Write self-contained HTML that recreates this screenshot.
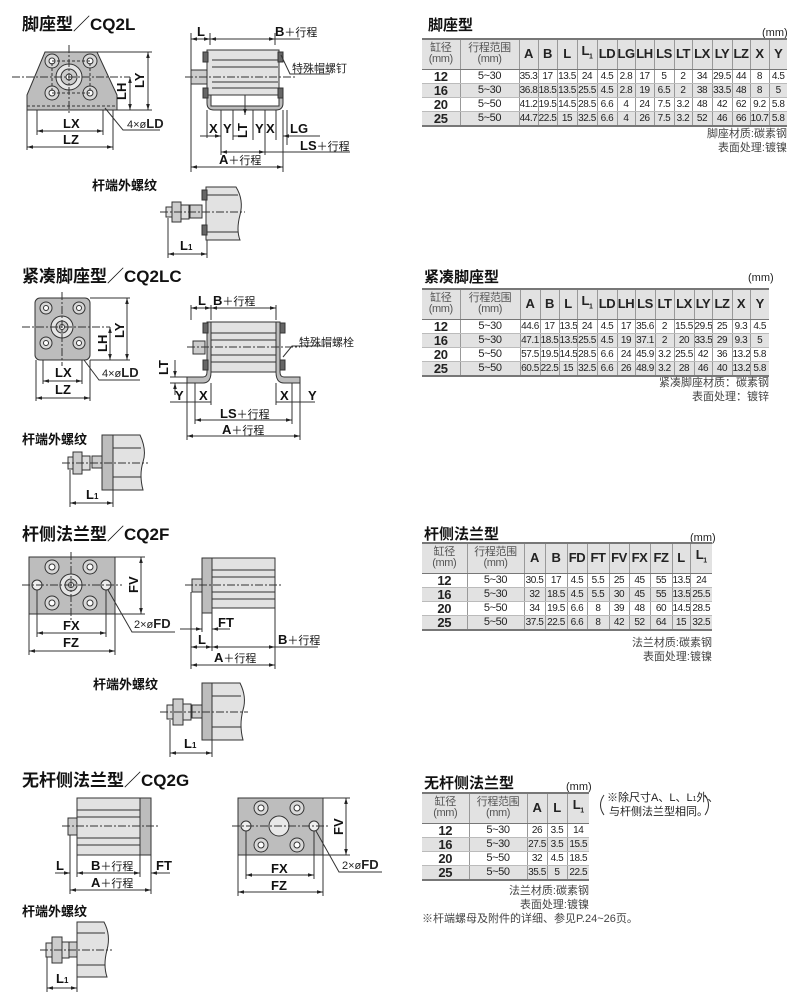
<!DOCTYPE html>
<html><head><meta charset="utf-8">
<style>
*{margin:0;padding:0;box-sizing:border-box}
body{width:790px;height:999px;background:#fff;position:relative;overflow:hidden;font-family:"Liberation Sans","Noto Sans CJK SC",sans-serif;color:#222}
svg{position:absolute;left:0;top:0}
.t{position:absolute;font-family:"Liberation Sans","Noto Sans CJK SC",sans-serif}
table{position:absolute;border-collapse:collapse;font-family:"Liberation Sans","Noto Sans CJK SC",sans-serif;table-layout:fixed}
td{border-left:1px solid #999;border-right:1px solid #999;text-align:center;padding:0;white-space:nowrap;overflow:hidden;line-height:13px;font-size:10px;letter-spacing:-0.4px}
tr.h td{background:#e2e2e2;font-weight:bold;font-size:13px;height:30px;border-bottom:1px solid #777;line-height:14px}
tr.h td.c{font-weight:normal;font-size:11px;color:#555;line-height:11px}
tr.g td{background:#e2e2e2}
tr td:first-child{border-left:none;font-weight:bold;font-size:13px}
tr td:last-child{border-right:none}
tr td:nth-child(2){font-size:11px}
table{border-top:2px solid #777;border-bottom:2px solid #777}
tr.d td{height:14px;border-bottom:1px solid #bbb}
.n{position:absolute;font-size:11px;color:#444;text-align:right;line-height:14px}
</style></head><body>

<svg width="790" height="999" viewBox="0 0 790 999" font-family="Liberation Sans, Noto Sans CJK SC, sans-serif">
<defs>
<marker id="a" viewBox="0 0 10 10" refX="10" refY="5" markerWidth="6" markerHeight="6" orient="auto-start-reverse"><path d="M0,2 L10,5 L0,8z" fill="#222"/></marker>
</defs>
<g font-weight="bold" font-size="17" fill="#111">
<text x="22" y="30">脚座型／CQ2L</text>
<text x="22" y="282">紧凑脚座型／CQ2LC</text>
<text x="22" y="540">杆侧法兰型／CQ2F</text>
<text x="22" y="786">无杆侧法兰型／CQ2G</text>
</g>
<g font-size="15" fill="#111" font-weight="bold">
<text x="428" y="30">脚座型</text>
<text x="424" y="282">紧凑脚座型</text>
<text x="424" y="539">杆侧法兰型</text>
<text x="424" y="788">无杆侧法兰型</text>
</g>
<g font-size="11" fill="#222">
<text x="762" y="36">(mm)</text>
<text x="748" y="281">(mm)</text>
<text x="690" y="541">(mm)</text>
<text x="566" y="790">(mm)</text>
</g>

<!-- ===== Section 1 ===== -->
<g stroke="#333" stroke-width="1">
<path d="M45,52 L97,52 L117,95 L117,110 L27,110 L27,95 Z" fill="#bdbdbd"/>
<line x1="27" y1="106" x2="117" y2="106" stroke-dasharray="3,2"/>
<g fill="#d8d8d8"><circle cx="52" cy="61" r="7"/><circle cx="90" cy="61" r="7"/><circle cx="52" cy="93" r="7"/><circle cx="90" cy="93" r="7"/></g>
<g fill="#fff"><circle cx="52" cy="61" r="3"/><circle cx="90" cy="61" r="3"/><circle cx="52" cy="93" r="3"/><circle cx="90" cy="93" r="3"/></g>
<circle cx="69" cy="77" r="13" fill="#e5e5e5"/><circle cx="69" cy="77" r="8" fill="#ccc"/><circle cx="69" cy="77" r="3" fill="#fff"/>
<rect x="52" y="61" width="38" height="32" fill="none" stroke-dasharray="3,2"/>
<line x1="12" y1="77" x2="130" y2="77" stroke-dasharray="8,2,2,2"/>
<line x1="69" y1="45" x2="69" y2="115" stroke-dasharray="8,2,2,2"/>
<line x1="97" y1="52" x2="152" y2="52"/><line x1="117" y1="110" x2="152" y2="110"/>
<line x1="148" y1="52" x2="148" y2="110" marker-start="url(#a)" marker-end="url(#a)"/>
<line x1="130" y1="77" x2="130" y2="110" marker-start="url(#a)" marker-end="url(#a)"/>
<line x1="37" y1="110" x2="37" y2="135"/><line x1="103" y1="110" x2="103" y2="135"/>
<line x1="27" y1="110" x2="27" y2="150"/><line x1="113" y1="110" x2="113" y2="150"/>
<line x1="37" y1="131" x2="103" y2="131" marker-start="url(#a)" marker-end="url(#a)"/>
<line x1="27" y1="147" x2="113" y2="147" marker-start="url(#a)" marker-end="url(#a)"/>
<polyline points="105,108 123,130 160,130" fill="none"/>
</g>
<g font-weight="bold" font-size="13" fill="#111">
<text x="63" y="128">LX</text><text x="63" y="144">LZ</text>
<text x="144" y="88" transform="rotate(-90 144 88)" >LY</text>
<text x="126" y="100" transform="rotate(-90 126 100)">LH</text>
</g>
<text x="127" y="128" font-size="11" fill="#222">4×ø<tspan font-weight="bold" font-size="13">LD</tspan></text>

<!-- side view 1 -->
<g stroke="#333" stroke-width="1">
<path d="M207,95 L207,103 Q207,110 214,110 L276,110 Q283,110 283,103 L283,95" fill="#bdbdbd"/>
<rect x="211" y="94" width="68" height="12" fill="#fff"/>
<rect x="207" y="50" width="72" height="45" fill="#e2e2e2"/>
<line x1="212" y1="60" x2="278" y2="60"/><line x1="212" y1="67" x2="278" y2="67"/><line x1="212" y1="82" x2="278" y2="82"/><line x1="212" y1="88" x2="278" y2="88"/>
<rect x="203" y="52" width="5" height="10" fill="#666"/><rect x="278" y="52" width="5" height="10" fill="#666"/>
<rect x="203" y="88" width="5" height="10" fill="#666"/><rect x="278" y="88" width="5" height="10" fill="#666"/>
<rect x="191" y="70" width="16" height="14" fill="#ccc"/>
<line x1="185" y1="77" x2="295" y2="77" stroke-dasharray="8,2,2,2"/>
<line x1="191" y1="33" x2="191" y2="172"/><line x1="210" y1="33" x2="210" y2="45"/><line x1="275" y1="33" x2="275" y2="45"/>
<line x1="191" y1="39" x2="210" y2="39" marker-start="url(#a)" marker-end="url(#a)"/>
<line x1="210" y1="39" x2="275" y2="39" marker-start="url(#a)" marker-end="url(#a)"/>
<line x1="275" y1="39" x2="300" y2="39"/>
<polyline points="281,55 290,74 330,74" fill="none"/>
<line x1="283" y1="110" x2="283" y2="172"/><line x1="287" y1="110" x2="287" y2="145"/>
<line x1="207" y1="110" x2="207" y2="138"/><line x1="221" y1="110" x2="221" y2="155"/><line x1="233" y1="110" x2="233" y2="140"/>
<line x1="253" y1="110" x2="253" y2="140"/><line x1="265" y1="110" x2="265" y2="155"/><line x1="276" y1="110" x2="276" y2="140"/>
<line x1="245" y1="95" x2="245" y2="115" marker-end="url(#a)"/>
<line x1="200" y1="136" x2="221" y2="136" marker-end="url(#a)"/>
<line x1="233" y1="136" x2="245" y2="136"/>
<line x1="283" y1="136" x2="320" y2="136" marker-start="url(#a)"/>
<line x1="221" y1="152" x2="265" y2="152" marker-start="url(#a)" marker-end="url(#a)"/>
<line x1="265" y1="152" x2="350" y2="152"/>
<line x1="191" y1="167" x2="283" y2="167" marker-start="url(#a)" marker-end="url(#a)"/>
</g>
<g font-weight="bold" font-size="13" fill="#111">
<text x="197" y="36">L</text><text x="275" y="36">B<tspan font-weight="normal" font-size="11">＋行程</tspan></text>
<text x="209" y="133">X</text><text x="223" y="133">Y</text>
<text x="247" y="138" transform="rotate(-90 247 138)">LT</text>
<text x="255" y="133">Y</text><text x="266" y="133">X</text><text x="290" y="133">LG</text>
<text x="300" y="150">LS<tspan font-weight="normal" font-size="11">＋行程</tspan></text>
<text x="219" y="164">A<tspan font-weight="normal" font-size="11">＋行程</tspan></text>
</g>
<text x="292" y="72" font-size="11" fill="#222">特殊帽螺钉</text>

<!-- rod end 1 -->
<text x="92" y="190" font-size="13" font-weight="bold" fill="#111">杆端外螺纹</text>
<g stroke="#333" stroke-width="1">
<path d="M206,187 L236,187 Q244,200 240,215 Q236,230 240,240 L206,240 Z" fill="#e2e2e2"/>
<rect x="202" y="190" width="5" height="10" fill="#666"/><rect x="202" y="225" width="5" height="10" fill="#666"/>
<line x1="207" y1="195" x2="238" y2="195"/><line x1="207" y1="232" x2="238" y2="232"/>
<rect x="190" y="205" width="12" height="13" fill="#ccc"/>
<rect x="172" y="202" width="9" height="20" fill="#ccc"/><rect x="181" y="205" width="8" height="14" fill="#ddd"/><rect x="166" y="207" width="6" height="10" fill="#ddd"/>
<line x1="160" y1="212" x2="245" y2="212" stroke-dasharray="8,2,2,2"/>
<line x1="168" y1="218" x2="168" y2="258"/><line x1="207" y1="240" x2="207" y2="258"/>
<line x1="168" y1="254" x2="207" y2="254" marker-start="url(#a)" marker-end="url(#a)"/>
</g>
<text x="180" y="250" font-size="13" font-weight="bold" fill="#111">L<tspan font-size="8">1</tspan></text>

<!-- ===== Section 2 ===== -->
<g stroke="#333" stroke-width="1">
<rect x="35" y="298" width="55" height="62" rx="5" fill="#bdbdbd"/>
<g fill="#d8d8d8"><circle cx="46" cy="308" r="6"/><circle cx="79" cy="308" r="6"/><circle cx="46" cy="343" r="6"/><circle cx="79" cy="343" r="6"/></g>
<g fill="#fff"><circle cx="46" cy="308" r="2.5"/><circle cx="79" cy="308" r="2.5"/><circle cx="46" cy="343" r="2.5"/><circle cx="79" cy="343" r="2.5"/></g>
<circle cx="62" cy="327" r="11" fill="#e5e5e5"/><circle cx="62" cy="327" r="6" fill="#ccc"/><circle cx="62" cy="327" r="2.5" fill="#fff"/>
<line x1="22" y1="327" x2="110" y2="327" stroke-dasharray="8,2,2,2"/>
<line x1="62" y1="292" x2="62" y2="366" stroke-dasharray="8,2,2,2"/>
<line x1="90" y1="298" x2="130" y2="298"/><line x1="90" y1="360" x2="130" y2="360"/>
<line x1="127" y1="298" x2="127" y2="360" marker-start="url(#a)" marker-end="url(#a)"/>
<line x1="110" y1="327" x2="110" y2="360" marker-start="url(#a)" marker-end="url(#a)"/>
<line x1="43" y1="360" x2="43" y2="384"/><line x1="82" y1="360" x2="82" y2="384"/>
<line x1="36" y1="360" x2="36" y2="401"/><line x1="90" y1="360" x2="90" y2="401"/>
<line x1="43" y1="381" x2="82" y2="381" marker-start="url(#a)" marker-end="url(#a)"/>
<line x1="36" y1="398" x2="90" y2="398" marker-start="url(#a)" marker-end="url(#a)"/>
<polyline points="84,360 99,380 140,380" fill="none"/>
</g>
<g font-weight="bold" font-size="13" fill="#111">
<text x="55" y="377">LX</text><text x="55" y="394">LZ</text>
<text x="124" y="338" transform="rotate(-90 124 338)">LY</text>
<text x="107" y="352" transform="rotate(-90 107 352)">LH</text>
</g>
<text x="102" y="377" font-size="11" fill="#222">4×ø<tspan font-weight="bold" font-size="13">LD</tspan></text>

<g stroke="#333" stroke-width="1">
<path d="M187,377 L203,377 Q207,377 207,372 L207,322 L211,322 L211,372 Q211,383 203,383 L187,383 Z" fill="#bdbdbd"/>
<path d="M300,377 L284,377 Q280,377 280,372 L280,322 L276,322 L276,372 Q276,383 284,383 L300,383 Z" fill="#bdbdbd"/>
<rect x="211" y="322" width="65" height="50" fill="#e2e2e2"/>
<line x1="211" y1="333" x2="276" y2="333"/><line x1="211" y1="340" x2="276" y2="340"/><line x1="211" y1="355" x2="276" y2="355"/><line x1="211" y1="362" x2="276" y2="362"/>
<rect x="203" y="323" width="5" height="10" fill="#666"/><rect x="280" y="323" width="5" height="10" fill="#666"/>
<rect x="203" y="360" width="5" height="10" fill="#666"/><rect x="280" y="360" width="5" height="10" fill="#666"/>
<rect x="193" y="341" width="12" height="13" fill="#ccc"/>
<line x1="187" y1="347" x2="300" y2="347" stroke-dasharray="8,2,2,2"/>
<line x1="191" y1="305" x2="191" y2="320"/><line x1="211" y1="305" x2="211" y2="320"/><line x1="276" y1="305" x2="276" y2="320"/>
<line x1="191" y1="308" x2="211" y2="308" marker-start="url(#a)" marker-end="url(#a)"/>
<line x1="211" y1="308" x2="276" y2="308" marker-start="url(#a)" marker-end="url(#a)"/>
<polyline points="283,357 292,346 325,346" fill="none"/>
<line x1="170" y1="377" x2="187" y2="377"/><line x1="170" y1="383" x2="187" y2="383"/>
<line x1="175" y1="360" x2="175" y2="377" marker-end="url(#a)"/>
<line x1="175" y1="395" x2="175" y2="383" marker-end="url(#a)"/>
<line x1="187" y1="383" x2="187" y2="440"/><line x1="300" y1="383" x2="300" y2="440"/>
<line x1="195" y1="383" x2="195" y2="424"/><line x1="292" y1="383" x2="292" y2="424"/>
<line x1="211" y1="383" x2="211" y2="405"/><line x1="276" y1="383" x2="276" y2="405"/>
<line x1="170" y1="402" x2="211" y2="402"/><line x1="276" y1="402" x2="315" y2="402"/>
<line x1="195" y1="420" x2="292" y2="420" marker-start="url(#a)" marker-end="url(#a)"/>
<line x1="187" y1="436" x2="300" y2="436" marker-start="url(#a)" marker-end="url(#a)"/>
</g>
<g font-weight="bold" font-size="13" fill="#111">
<text x="198" y="305">L</text><text x="213" y="305">B<tspan font-weight="normal" font-size="11">＋行程</tspan></text>
<text x="168" y="375" transform="rotate(-90 168 375)">LT</text>
<text x="175" y="400">Y</text><text x="199" y="400">X</text><text x="280" y="400">X</text><text x="308" y="400">Y</text>
<text x="220" y="418">LS<tspan font-weight="normal" font-size="11">＋行程</tspan></text>
<text x="222" y="434">A<tspan font-weight="normal" font-size="11">＋行程</tspan></text>
</g>
<text x="299" y="346" font-size="11" fill="#222">特殊帽螺栓</text>

<text x="22" y="444" font-size="13" font-weight="bold" fill="#111">杆端外螺纹</text>
<g stroke="#333" stroke-width="1">
<rect x="102" y="435" width="11" height="55" fill="#bdbdbd"/>
<path d="M113,435 L140,435 Q147,450 143,462 Q139,475 143,490 L113,490 Z" fill="#e2e2e2"/>
<line x1="113" y1="448" x2="141" y2="448"/><line x1="113" y1="477" x2="141" y2="477"/>
<rect x="92" y="456" width="10" height="12" fill="#ccc"/>
<rect x="73" y="452" width="9" height="22" fill="#ccc"/><rect x="82" y="456" width="8" height="14" fill="#ddd"/><rect x="68" y="457" width="5" height="12" fill="#ddd"/>
<line x1="62" y1="463" x2="148" y2="463" stroke-dasharray="8,2,2,2"/>
<line x1="70" y1="470" x2="70" y2="507"/><line x1="113" y1="490" x2="113" y2="507"/>
<line x1="70" y1="503" x2="113" y2="503" marker-start="url(#a)" marker-end="url(#a)"/>
</g>
<text x="86" y="499" font-size="13" font-weight="bold" fill="#111">L<tspan font-size="8">1</tspan></text>

<!-- ===== Section 3 ===== -->
<g stroke="#333" stroke-width="1">
<rect x="29" y="557" width="86" height="57" fill="#bdbdbd"/>
<g fill="#d8d8d8"><circle cx="52" cy="567" r="7"/><circle cx="90" cy="567" r="7"/><circle cx="52" cy="603" r="7"/><circle cx="90" cy="603" r="7"/></g>
<g fill="#fff"><circle cx="52" cy="567" r="3"/><circle cx="90" cy="567" r="3"/><circle cx="52" cy="603" r="3"/><circle cx="90" cy="603" r="3"/></g>
<circle cx="71" cy="585" r="11" fill="#e5e5e5"/><circle cx="71" cy="585" r="6" fill="#ccc"/><circle cx="71" cy="585" r="2.5" fill="#fff"/>
<circle cx="37" cy="585" r="5" fill="#eee"/><circle cx="106" cy="585" r="5" fill="#eee"/>
<line x1="22" y1="585" x2="122" y2="585" stroke-dasharray="8,2,2,2"/>
<line x1="71" y1="552" x2="71" y2="620" stroke-dasharray="8,2,2,2"/>
<line x1="115" y1="557" x2="145" y2="557"/><line x1="115" y1="614" x2="145" y2="614"/>
<line x1="141" y1="557" x2="141" y2="614" marker-start="url(#a)" marker-end="url(#a)"/>
<line x1="37" y1="590" x2="37" y2="637"/><line x1="106" y1="590" x2="106" y2="637"/>
<line x1="29" y1="614" x2="29" y2="655"/><line x1="115" y1="614" x2="115" y2="655"/>
<line x1="37" y1="633" x2="106" y2="633" marker-start="url(#a)" marker-end="url(#a)"/>
<line x1="29" y1="651" x2="115" y2="651" marker-start="url(#a)" marker-end="url(#a)"/>
<polyline points="108,590 132,632 175,632" fill="none"/>
</g>
<g font-weight="bold" font-size="13" fill="#111">
<text x="63" y="630">FX</text><text x="63" y="647">FZ</text>
<text x="138" y="593" transform="rotate(-90 138 593)">FV</text>
</g>
<text x="134" y="628" font-size="11" fill="#222">2×ø<tspan font-weight="bold" font-size="13">FD</tspan></text>

<g stroke="#333" stroke-width="1">
<rect x="202" y="558" width="10" height="55" fill="#bdbdbd"/>
<rect x="212" y="558" width="63" height="50" fill="#e2e2e2"/>
<line x1="212" y1="570" x2="275" y2="570"/><line x1="212" y1="577" x2="275" y2="577"/><line x1="212" y1="592" x2="275" y2="592"/><line x1="212" y1="599" x2="275" y2="599"/>
<rect x="192" y="579" width="10" height="13" fill="#ccc"/>
<line x1="185" y1="585" x2="282" y2="585" stroke-dasharray="8,2,2,2"/>
<line x1="191" y1="592" x2="191" y2="669"/><line x1="202" y1="613" x2="202" y2="632"/><line x1="212" y1="613" x2="212" y2="651"/><line x1="275" y1="608" x2="275" y2="669"/>
<line x1="180" y1="629" x2="202" y2="629" marker-end="url(#a)"/>
<line x1="230" y1="629" x2="212" y2="629" marker-end="url(#a)"/>
<line x1="191" y1="647" x2="212" y2="647" marker-start="url(#a)" marker-end="url(#a)"/>
<line x1="212" y1="647" x2="275" y2="647" marker-start="url(#a)" marker-end="url(#a)"/>
<line x1="275" y1="647" x2="318" y2="647"/>
<line x1="191" y1="665" x2="275" y2="665" marker-start="url(#a)" marker-end="url(#a)"/>
</g>
<g font-weight="bold" font-size="13" fill="#111">
<text x="218" y="627">FT</text><text x="198" y="644">L</text>
<text x="278" y="644">B<tspan font-weight="normal" font-size="11">＋行程</tspan></text>
<text x="214" y="662">A<tspan font-weight="normal" font-size="11">＋行程</tspan></text>
</g>

<text x="93" y="689" font-size="13" font-weight="bold" fill="#111">杆端外螺纹</text>
<g stroke="#333" stroke-width="1">
<rect x="202" y="683" width="10" height="57" fill="#bdbdbd"/>
<path d="M212,683 L240,683 Q247,697 243,710 Q239,725 243,740 L212,740 Z" fill="#e2e2e2"/>
<line x1="212" y1="696" x2="241" y2="696"/><line x1="212" y1="727" x2="241" y2="727"/>
<rect x="192" y="705" width="10" height="13" fill="#ccc"/>
<rect x="173" y="699" width="10" height="26" fill="#ccc"/><rect x="183" y="704" width="8" height="16" fill="#ddd"/><rect x="167" y="705" width="6" height="14" fill="#ddd"/>
<line x1="160" y1="712" x2="248" y2="712" stroke-dasharray="8,2,2,2"/>
<line x1="170" y1="720" x2="170" y2="757"/><line x1="212" y1="740" x2="212" y2="757"/>
<line x1="170" y1="753" x2="212" y2="753" marker-start="url(#a)" marker-end="url(#a)"/>
</g>
<text x="184" y="748" font-size="13" font-weight="bold" fill="#111">L<tspan font-size="8">1</tspan></text>

<!-- ===== Section 4 ===== -->
<g stroke="#333" stroke-width="1">
<rect x="77" y="798" width="63" height="57" fill="#e2e2e2"/>
<rect x="140" y="798" width="11" height="57" fill="#bdbdbd"/>
<line x1="77" y1="810" x2="140" y2="810"/><line x1="77" y1="817" x2="140" y2="817"/><line x1="77" y1="838" x2="140" y2="838"/><line x1="77" y1="845" x2="140" y2="845"/>
<rect x="68" y="818" width="9" height="17" fill="#ccc"/>
<line x1="62" y1="826" x2="158" y2="826" stroke-dasharray="8,2,2,2"/>
<line x1="70" y1="835" x2="70" y2="894"/><line x1="77" y1="855" x2="77" y2="877"/><line x1="140" y1="855" x2="140" y2="877"/><line x1="151" y1="855" x2="151" y2="894"/>
<line x1="55" y1="873" x2="70" y2="873" marker-end="url(#a)"/>
<line x1="77" y1="873" x2="140" y2="873" marker-start="url(#a)" marker-end="url(#a)"/>
<line x1="170" y1="873" x2="151" y2="873" marker-end="url(#a)"/>
<line x1="70" y1="890" x2="151" y2="890" marker-start="url(#a)" marker-end="url(#a)"/>
</g>
<g font-weight="bold" font-size="13" fill="#111">
<text x="56" y="870">L</text>
<text x="91" y="870">B<tspan font-weight="normal" font-size="11">＋行程</tspan></text>
<text x="156" y="870">FT</text>
<text x="91" y="887">A<tspan font-weight="normal" font-size="11">＋行程</tspan></text>
</g>

<g stroke="#333" stroke-width="1">
<rect x="238" y="798" width="85" height="57" fill="#bdbdbd"/>
<g fill="#d8d8d8"><circle cx="261" cy="808" r="7"/><circle cx="297" cy="808" r="7"/><circle cx="261" cy="845" r="7"/><circle cx="297" cy="845" r="7"/></g>
<g fill="#fff"><circle cx="261" cy="808" r="3"/><circle cx="297" cy="808" r="3"/><circle cx="261" cy="845" r="3"/><circle cx="297" cy="845" r="3"/></g>
<circle cx="279" cy="826" r="10" fill="#e8e8e8"/>
<circle cx="246" cy="826" r="5" fill="#eee"/><circle cx="314" cy="826" r="5" fill="#eee"/>
<line x1="232" y1="826" x2="330" y2="826" stroke-dasharray="8,2,2,2"/>
<line x1="323" y1="798" x2="350" y2="798"/><line x1="323" y1="855" x2="350" y2="855"/>
<line x1="346" y1="798" x2="346" y2="855" marker-start="url(#a)" marker-end="url(#a)"/>
<line x1="246" y1="831" x2="246" y2="879"/><line x1="314" y1="831" x2="314" y2="879"/>
<line x1="238" y1="855" x2="238" y2="896"/><line x1="323" y1="855" x2="323" y2="896"/>
<line x1="246" y1="875" x2="314" y2="875" marker-start="url(#a)" marker-end="url(#a)"/>
<line x1="238" y1="892" x2="323" y2="892" marker-start="url(#a)" marker-end="url(#a)"/>
<polyline points="316,831 339,872 382,872" fill="none"/>
</g>
<g font-weight="bold" font-size="13" fill="#111">
<text x="271" y="873">FX</text><text x="271" y="890">FZ</text>
<text x="343" y="835" transform="rotate(-90 343 835)">FV</text>
</g>
<text x="342" y="869" font-size="11" fill="#222">2×ø<tspan font-weight="bold" font-size="13">FD</tspan></text>

<text x="22" y="916" font-size="13" font-weight="bold" fill="#111">杆端外螺纹</text>
<g stroke="#333" stroke-width="1">
<path d="M77,922 L104,922 Q111,935 107,950 Q103,965 107,977 L77,977 Z" fill="#e2e2e2"/>
<line x1="77" y1="933" x2="105" y2="933"/><line x1="77" y1="965" x2="105" y2="965"/>
<rect x="69" y="942" width="8" height="15" fill="#ccc"/>
<rect x="52" y="937" width="10" height="26" fill="#ccc"/><rect x="62" y="942" width="7" height="16" fill="#ddd"/><rect x="46" y="943" width="6" height="14" fill="#ddd"/>
<line x1="40" y1="950" x2="112" y2="950" stroke-dasharray="8,2,2,2"/>
<line x1="47" y1="957" x2="47" y2="992"/><line x1="77" y1="977" x2="77" y2="992"/>
<line x1="47" y1="988" x2="77" y2="988" marker-start="url(#a)" marker-end="url(#a)"/>
</g>
<text x="56" y="983" font-size="13" font-weight="bold" fill="#111">L<tspan font-size="8">1</tspan></text>

<!-- note brackets section 4 -->
<path d="M604,795 Q597,805 604,815" fill="none" stroke="#333"/>
<path d="M705,795 Q712,805 705,815" fill="none" stroke="#333"/>
<text x="607" y="801" font-size="11" fill="#222">※除尺寸A、L、L<tspan font-size="7">1</tspan>外、</text>
<text x="609" y="815" font-size="11" fill="#222">与杆侧法兰型相同。</text>
</svg>

<!-- Table 1 -->
<table style="left:422px;top:38px;width:365px">
<colgroup><col style="width:38px"><col style="width:59px"><col style="width:19px"><col style="width:19px"><col style="width:20px"><col style="width:20px"><col style="width:20px"><col style="width:18px"><col style="width:19px"><col style="width:20px"><col style="width:18px"><col style="width:20px"><col style="width:20px"><col style="width:18px"><col style="width:19px"><col style="width:18px"></colgroup>
<tr class="h"><td class="c">缸径<br>(mm)</td><td class="c">行程范围<br>(mm)</td><td>A</td><td>B</td><td>L</td><td>L<sub style="font-size:7px">1</sub></td><td>LD</td><td>LG</td><td>LH</td><td>LS</td><td>LT</td><td>LX</td><td>LY</td><td>LZ</td><td>X</td><td>Y</td></tr>
<tr class="d"><td>12</td><td>5~30</td><td>35.3</td><td>17</td><td>13.5</td><td>24</td><td>4.5</td><td>2.8</td><td>17</td><td>5</td><td>2</td><td>34</td><td>29.5</td><td>44</td><td>8</td><td>4.5</td></tr>
<tr class="d g"><td>16</td><td>5~30</td><td>36.8</td><td>18.5</td><td>13.5</td><td>25.5</td><td>4.5</td><td>2.8</td><td>19</td><td>6.5</td><td>2</td><td>38</td><td>33.5</td><td>48</td><td>8</td><td>5</td></tr>
<tr class="d"><td>20</td><td>5~50</td><td>41.2</td><td>19.5</td><td>14.5</td><td>28.5</td><td>6.6</td><td>4</td><td>24</td><td>7.5</td><td>3.2</td><td>48</td><td>42</td><td>62</td><td>9.2</td><td>5.8</td></tr>
<tr class="d g"><td>25</td><td>5~50</td><td>44.7</td><td>22.5</td><td>15</td><td>32.5</td><td>6.6</td><td>4</td><td>26</td><td>7.5</td><td>3.2</td><td>52</td><td>46</td><td>66</td><td>10.7</td><td>5.8</td></tr>
</table>
<div class="n" style="left:600px;top:127px;width:187px">脚座材质:碳素钢<br>表面处理:镀镍</div>

<!-- Table 2 -->
<table style="left:422px;top:288px;width:347px">
<colgroup><col style="width:38px"><col style="width:60px"><col style="width:20px"><col style="width:19px"><col style="width:18px"><col style="width:20px"><col style="width:20px"><col style="width:18px"><col style="width:20px"><col style="width:19px"><col style="width:20px"><col style="width:18px"><col style="width:20px"><col style="width:18px"><col style="width:19px"></colgroup>
<tr class="h"><td class="c">缸径<br>(mm)</td><td class="c">行程范围<br>(mm)</td><td>A</td><td>B</td><td>L</td><td>L<sub style="font-size:7px">1</sub></td><td>LD</td><td>LH</td><td>LS</td><td>LT</td><td>LX</td><td>LY</td><td>LZ</td><td>X</td><td>Y</td></tr>
<tr class="d"><td>12</td><td>5~30</td><td>44.6</td><td>17</td><td>13.5</td><td>24</td><td>4.5</td><td>17</td><td>35.6</td><td>2</td><td>15.5</td><td>29.5</td><td>25</td><td>9.3</td><td>4.5</td></tr>
<tr class="d g"><td>16</td><td>5~30</td><td>47.1</td><td>18.5</td><td>13.5</td><td>25.5</td><td>4.5</td><td>19</td><td>37.1</td><td>2</td><td>20</td><td>33.5</td><td>29</td><td>9.3</td><td>5</td></tr>
<tr class="d"><td>20</td><td>5~50</td><td>57.5</td><td>19.5</td><td>14.5</td><td>28.5</td><td>6.6</td><td>24</td><td>45.9</td><td>3.2</td><td>25.5</td><td>42</td><td>36</td><td>13.2</td><td>5.8</td></tr>
<tr class="d g"><td>25</td><td>5~50</td><td>60.5</td><td>22.5</td><td>15</td><td>32.5</td><td>6.6</td><td>26</td><td>48.9</td><td>3.2</td><td>28</td><td>46</td><td>40</td><td>13.2</td><td>5.8</td></tr>
</table>
<div class="n" style="left:580px;top:376px;width:189px">紧凑脚座材质：碳素钢<br>表面处理：镀锌</div>

<!-- Table 3 -->
<table style="left:422px;top:542px;width:290px">
<colgroup><col style="width:45px"><col style="width:57px"><col style="width:21px"><col style="width:22px"><col style="width:20px"><col style="width:22px"><col style="width:20px"><col style="width:21px"><col style="width:22px"><col style="width:18px"><col style="width:22px"></colgroup>
<tr class="h"><td class="c">缸径<br>(mm)</td><td class="c">行程范围<br>(mm)</td><td>A</td><td>B</td><td>FD</td><td>FT</td><td>FV</td><td>FX</td><td>FZ</td><td>L</td><td>L<sub style="font-size:7px">1</sub></td></tr>
<tr class="d"><td>12</td><td>5~30</td><td>30.5</td><td>17</td><td>4.5</td><td>5.5</td><td>25</td><td>45</td><td>55</td><td>13.5</td><td>24</td></tr>
<tr class="d g"><td>16</td><td>5~30</td><td>32</td><td>18.5</td><td>4.5</td><td>5.5</td><td>30</td><td>45</td><td>55</td><td>13.5</td><td>25.5</td></tr>
<tr class="d"><td>20</td><td>5~50</td><td>34</td><td>19.5</td><td>6.6</td><td>8</td><td>39</td><td>48</td><td>60</td><td>14.5</td><td>28.5</td></tr>
<tr class="d g"><td>25</td><td>5~50</td><td>37.5</td><td>22.5</td><td>6.6</td><td>8</td><td>42</td><td>52</td><td>64</td><td>15</td><td>32.5</td></tr>
</table>
<div class="n" style="left:560px;top:636px;width:152px">法兰材质:碳素钢<br>表面处理:镀镍</div>

<!-- Table 4 -->
<table style="left:422px;top:792px;width:167px">
<colgroup><col style="width:47px"><col style="width:58px"><col style="width:20px"><col style="width:20px"><col style="width:22px"></colgroup>
<tr class="h"><td class="c">缸径<br>(mm)</td><td class="c">行程范围<br>(mm)</td><td>A</td><td>L</td><td>L<sub style="font-size:7px">1</sub></td></tr>
<tr class="d"><td>12</td><td>5~30</td><td>26</td><td>3.5</td><td>14</td></tr>
<tr class="d g"><td>16</td><td>5~30</td><td>27.5</td><td>3.5</td><td>15.5</td></tr>
<tr class="d"><td>20</td><td>5~50</td><td>32</td><td>4.5</td><td>18.5</td></tr>
<tr class="d g"><td>25</td><td>5~50</td><td>35.5</td><td>5</td><td>22.5</td></tr>
</table>
<div class="n" style="left:460px;top:884px;width:129px">法兰材质:碳素钢<br>表面处理:镀镍</div>
<div class="n" style="left:422px;top:912px;width:260px;text-align:left">※杆端螺母及附件的详细、参见P.24~26页。</div>
</body></html>
